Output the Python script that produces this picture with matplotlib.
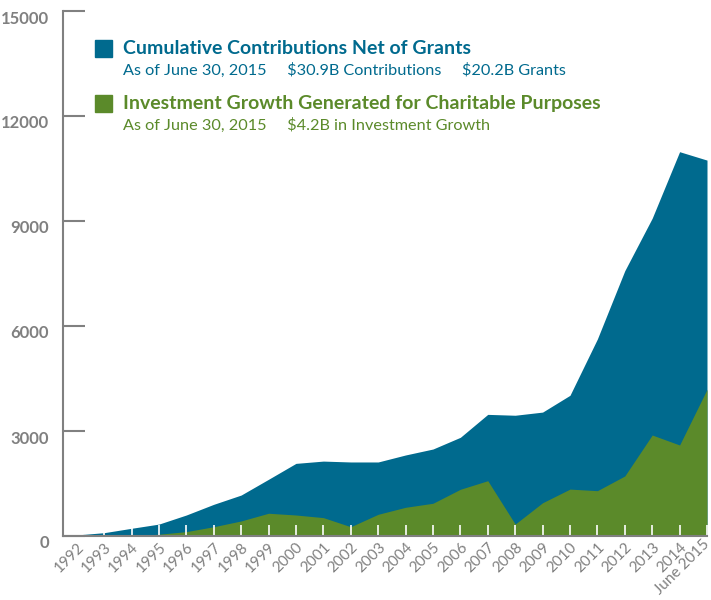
import matplotlib.pyplot as plt
import matplotlib.transforms as mtransforms
from matplotlib.patches import Rectangle

# Values in millions of dollars
years = ['1992', '1993', '1994', '1995', '1996', '1997', '1998', '1999',
         '2000', '2001', '2002', '2003', '2004', '2005', '2006', '2007',
         '2008', '2009', '2010', '2011', '2012', '2013', '2014', 'June 2015']
contributions_net = [30, 95, 220, 340, 600, 905, 1170, 1620,
                     2075, 2140, 2115, 2115, 2315, 2485, 2820, 3475,
                     3450, 3540, 4020, 5630, 7580, 9080, 10980, 10740]
investment_growth = [0, 0, 10, 50, 125, 265, 430, 650,
                     600, 525, 265, 620, 820, 935, 1335, 1580,
                     340, 950, 1340, 1295, 1715, 2885, 2600, 4190]
y_ticks = [0, 3000, 6000, 9000, 12000, 15000]

blue = '#006a8e'
green = '#5b8a2a'
gray = '#808080'

plt.rcParams['font.family'] = ['Lato', 'DejaVu Sans']

fig = plt.figure(figsize=(7.11, 6.0), dpi=100)
ax = fig.add_axes([63 / 711, 64 / 600, 644 / 711, 525 / 600])

x = list(range(len(years)))
ax.fill_between(x, 0, contributions_net, color=blue, linewidth=0)
ax.fill_between(x, 0, investment_growth, color=green, linewidth=0)

ax.set_xlim(-0.5, len(years) - 1)
ax.set_ylim(0, 15000)

for side in ['top', 'right']:
    ax.spines[side].set_visible(False)
for side in ['left', 'bottom']:
    ax.spines[side].set_color(gray)
    ax.spines[side].set_linewidth(1.5)

ax.set_yticks(y_ticks)
ax.set_yticklabels([str(v) for v in y_ticks], fontsize=12, fontweight='bold', color=gray)
ax.tick_params(axis='y', direction='in', length=16, width=1.5, color=gray, pad=10)
offset = mtransforms.ScaledTranslation(0, -6 / 100, fig.dpi_scale_trans)
for lbl in ax.get_yticklabels():
    lbl.set_transform(lbl.get_transform() + offset)

ax.set_xticks(x)
ax.set_xticklabels(years, rotation=45, ha='right', rotation_mode='anchor',
                   fontsize=11, color=gray)
ax.tick_params(axis='x', direction='in', length=8, width=1.2, color='white', pad=3)
# pull the last label in a little so it stays inside the picture
last = ax.get_xticklabels()[-1]
last.set_transform(last.get_transform() +
                   mtransforms.ScaledTranslation(-5 / 100, 3 / 100, fig.dpi_scale_trans))

# legend block
fig.add_artist(Rectangle((95 / 711, 1 - 57 / 600), 17 / 711, 17 / 600,
                         transform=fig.transFigure, color=blue))
fig.add_artist(Rectangle((95 / 711, 1 - 112 / 600), 17 / 711, 17 / 600,
                         transform=fig.transFigure, color=green))
fig.text(123 / 711, 1 - 48 / 600, 'Cumulative Contributions Net of Grants',
         fontsize=14, fontweight='bold', color=blue, va='center')
fig.text(123 / 711, 1 - 70 / 600,
         r'As of June 30, 2015     \$30.9B Contributions     \$20.2B Grants',
         fontsize=11.7, color=blue, va='center')
fig.text(123 / 711, 1 - 103 / 600, 'Investment Growth Generated for Charitable Purposes',
         fontsize=14, fontweight='bold', color=green, va='center')
fig.text(123 / 711, 1 - 125 / 600, r'As of June 30, 2015     \$4.2B in Investment Growth',
         fontsize=11.7, color=green, va='center')

fig.savefig('out.png', dpi=100)
